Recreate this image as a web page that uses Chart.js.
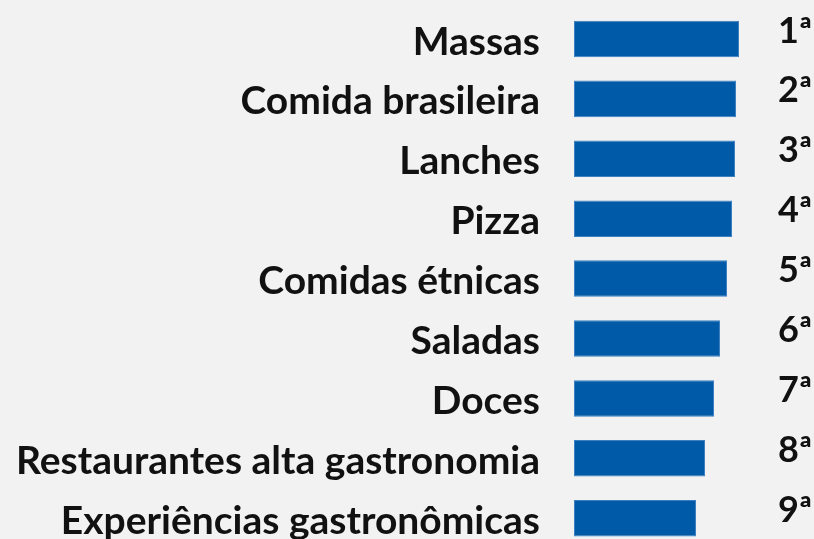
<!DOCTYPE html>
<html>
<head>
<meta charset="utf-8">
<script src="https://cdn.jsdelivr.net/npm/chart.js@4"></script>
<style>
    html, body { margin: 0; padding: 0; background: #f2f2f2; overflow: hidden; }
    #wrap { width: 814px; height: 556px; position: relative; }
</style>
</head>
<body>
<div id="wrap"><canvas id="rankChart"></canvas></div>
<script>
// categorias e valores (comprimento relativo das barras)
const categories = ['Massas', 'Comida brasileira', 'Lanches', 'Pizza', 'Comidas étnicas',
    'Saladas', 'Doces', 'Restaurantes alta gastronomia', 'Experiências gastronômicas'];
const values = [165, 162, 161, 158, 153, 146, 140, 131, 122];
const ranks = ['1ª', '2ª', '3ª', '4ª', '5ª', '6ª', '7ª', '8ª', '9ª'];

// lineHeight pequeno para que os rótulos não empurrem a área do gráfico
const labelFont = { family: 'Lato', weight: 'bold', size: 39, lineHeight: 0.4 };
const rankFont = { family: 'Lato', weight: 'bold', size: 36, lineHeight: 0.4 };

const ctx = document.getElementById('rankChart').getContext('2d');

new Chart(ctx, {
    type: 'bar',
    data: {
        labels: categories,
        datasets: [{
            data: values,
            backgroundColor: '#005aa7',
            borderColor: '#3c80c2',
            borderWidth: 1,
            borderSkipped: false,
            barPercentage: 0.61,
            categoryPercentage: 1
        }]
    },
    options: {
        indexAxis: 'y',
        responsive: true,
        maintainAspectRatio: false,
        animation: false,
        layout: { padding: { top: 9, bottom: 0, left: 0, right: 0 } },
        plugins: {
            legend: { display: false },
            tooltip: { enabled: false }
        },
        scales: {
            x: {
                display: false,
                min: 0,
                max: 180
            },
            y: {
                position: 'left',
                // marcas invisíveis só para afastar o texto das barras
                grid: { display: true, drawOnChartArea: false, drawTicks: true, tickLength: 34, color: 'rgba(0,0,0,0)' },
                border: { display: false },
                ticks: { color: '#111', font: labelFont, padding: 0, labelOffset: 3 },
                afterFit: function (scale) { scale.width = 574; }
            },
            y2: {
                type: 'category',
                position: 'right',
                labels: ranks,
                grid: { display: true, drawOnChartArea: false, drawTicks: true, tickLength: 24, color: 'rgba(0,0,0,0)' },
                border: { display: false },
                ticks: { color: '#111', font: rankFont, padding: 0, labelOffset: -8 },
                afterFit: function (scale) { scale.width = 60; }
            }
        }
    }
});
</script>
</body>
</html>
